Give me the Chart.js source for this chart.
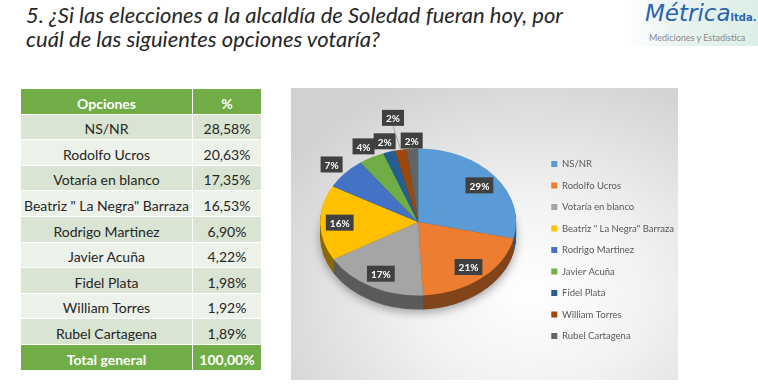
<!DOCTYPE html>
<html>
<head>
  <meta charset="utf-8">
  <title>Elecciones Soledad</title>
  <script src="https://cdn.jsdelivr.net/npm/chart.js"></script>
  <style type="text/css">
    body {
      margin: 0;
      width: 758px;
      height: 390px;
      background: #fff;
      font-family: Lato, "Noto Sans", sans-serif;
      position: relative;
      overflow: hidden;
    }
    .titulo {
      position: absolute;
      left: 26px;
      top: 3px;
      font-size: 22px;
      line-height: 24px;
      font-style: italic;
      color: #262626;
    }
    .logo {
      position: absolute;
      left: 625px;
      top: 0;
      width: 133px;
      height: 46px;
      background: linear-gradient(90deg, #ffffff 0%, #e9f3f0 40%, #dcefe6 100%);
    }
    .logo .nombre {
      position: absolute;
      left: 20px;
      top: 0px;
      font-family: "DejaVu Sans", sans-serif;
      font-style: italic;
      font-size: 23px;
      color: #2a64ad;
    }
    .logo .ltda {
      font-size: 10px;
      font-weight: bold;
      font-style: normal;
    }
    .logo .sub {
      position: absolute;
      left: 24px;
      top: 32px;
      font-size: 9px;
      color: #8a8a8a;
    }
    table {
      position: absolute;
      left: 20px;
      top: 88px;
      width: 242px;
      border-collapse: collapse;
      font-size: 14px;
      color: #262626;
    }
    td, th {
      text-align: center;
      vertical-align: bottom;
      padding: 0 0 2px 0;
      border: 1px solid #fff;
      height: 22.6px;
    }
    th, tr.total td {
      background: #70ad47;
      color: #fff;
      font-weight: bold;
    }
    tr.impar td { background: #d9e4d2; }
    tr.par td { background: #ecf1e9; }
    .grafico {
      position: absolute;
      left: 291px;
      top: 88px;
      width: 387px;
      height: 292px;
      background: radial-gradient(ellipse 75% 80% at 62% 70%, #ffffff 0%, #f2f2f2 40%, #d2d2d2 100%);
    }
  </style>
</head>
<body>
  <div class="titulo">5. ¿Si las elecciones a la alcaldía de Soledad fueran hoy, por<br>cuál de las siguientes opciones votaría?</div>

  <div class="logo">
    <div class="nombre">Métrica<span class="ltda">ltda.</span></div>
    <div class="sub">Mediciones y Estadistica</div>
  </div>

  <table id="tabla"></table>

  <div class="grafico">
    <canvas id="torta"></canvas>
  </div>

  <script>
    // datos
    var opciones = ['NS/NR', 'Rodolfo Ucros', 'Votaría en blanco', 'Beatriz " La Negra" Barraza',
      'Rodrigo Martinez', 'Javier Acuña', 'Fidel Plata', 'William Torres', 'Rubel Cartagena'];
    var porcentajes = [28.58, 20.63, 17.35, 16.53, 6.90, 4.22, 1.98, 1.92, 1.89];
    var etiquetasTorta = ['29%', '21%', '17%', '16%', '7%', '4%', '2%', '2%', '2%'];
    var total = '100,00%';

    var colores = ['#5b9bd5', '#ed7d31', '#a5a5a5', '#ffc000', '#4472c4', '#70ad47', '#255e91', '#9e480e', '#636363'];

    // tabla
    var html = '<tr><th>Opciones</th><th>%</th></tr>';
    opciones.forEach(function(op, i) {
      var clase = i % 2 == 0 ? 'impar' : 'par';
      html += '<tr class="' + clase + '"><td>' + op + '</td><td>' +
        porcentajes[i].toFixed(2).replace('.', ',') + '%</td></tr>';
    });
    html += '<tr class="total"><td>Total general</td><td>' + total + '</td></tr>';
    document.getElementById('tabla').innerHTML = html;
    document.querySelectorAll('#tabla tr').forEach(function(tr) {
      tr.children[0].style.width = '171px';
    });

    function oscurecer(hex, f) {
      var n = parseInt(hex.slice(1), 16);
      var r = Math.round(((n >> 16) & 255) * f);
      var g = Math.round(((n >> 8) & 255) * f);
      var b = Math.round((n & 255) * f);
      return 'rgb(' + r + ',' + g + ',' + b + ')';
    }

    // torta 3D: aplasta el circulo y le pone el costado
    var torta3d = {
      id: 'torta3d',
      beforeDatasetsDraw: function(chart, args, o) {
        var ctx = chart.ctx;
        var meta = chart.getDatasetMeta(0);
        var cx = meta.data[0].x, cy = meta.data[0].y;
        for (var k = o.depth; k >= 1; k--) {
          ctx.save();
          if (k == o.depth) {
            ctx.shadowColor = 'rgba(0,0,0,0.35)';
            ctx.shadowBlur = 10;
            ctx.shadowOffsetY = 3;
          }
          ctx.translate(cx + o.dx, cy + o.dy + k);
          ctx.scale(1, o.tilt);
          ctx.translate(-cx, -cy);
          meta.data.forEach(function(arc, i) {
            ctx.beginPath();
            ctx.moveTo(cx, cy);
            ctx.arc(cx, cy, arc.outerRadius, arc.startAngle, arc.endAngle);
            ctx.closePath();
            ctx.fillStyle = oscurecer(colores[i], 0.55);
            ctx.fill();
          });
          ctx.restore();
        }
        ctx.save();
        ctx.translate(cx + o.dx, cy + o.dy);
        ctx.scale(1, o.tilt);
        ctx.translate(-cx, -cy);
      },
      afterDatasetsDraw: function(chart, args, o) {
        var ctx = chart.ctx;
        ctx.restore();
        var meta = chart.getDatasetMeta(0);
        ctx.save();
        ctx.font = 'bold 10px Lato, sans-serif';
        ctx.textAlign = 'center';
        ctx.textBaseline = 'middle';
        meta.data.forEach(function(arc, i) {
          var mid = (arc.startAngle + arc.endAngle) / 2;
          var R = arc.outerRadius;
          var f = o.factores[i];
          var x0 = arc.x + o.dx, y0 = arc.y + o.dy;
          var px = x0 + R * f * Math.cos(mid);
          var py = y0 + R * f * Math.sin(mid) * o.tilt;
          var txt = etiquetasTorta[i];
          var w = ctx.measureText(txt).width + 8, h = 16;
          if (f > 1.3) {
            ctx.strokeStyle = '#a6a6a6';
            ctx.lineWidth = 1;
            ctx.beginPath();
            ctx.moveTo(px, py + h / 2);
            ctx.lineTo(x0 + R * Math.cos(mid), y0 + R * Math.sin(mid) * o.tilt);
            ctx.stroke();
          }
          ctx.fillStyle = '#404040';
          ctx.fillRect(px - w / 2, py - h / 2, w, h);
          ctx.fillStyle = '#fff';
          ctx.fillText(txt, px, py + 1);
        });
        ctx.restore();
      }
    };

    var grafico = new Chart(document.getElementById('torta'), {
      type: 'pie',
      data: {
        labels: opciones,
        datasets: [{
          data: porcentajes,
          backgroundColor: colores,
          borderWidth: 0,
          radius: 98
        }]
      },
      options: {
        responsive: true,
        maintainAspectRatio: false,
        animation: false,
        layout: { padding: { top: 32, right: -6, left: 0, bottom: 0 } },
        plugins: {
          tooltip: { enabled: false },
          legend: {
            position: 'right',
            labels: {
              boxWidth: 6,
              boxHeight: 6,
              padding: 12,
              color: '#595959',
              font: { size: 9.5, family: 'Lato' }
            }
          },
          torta3d: {
            depth: 14,
            tilt: 0.75,
            dx: 3,
            dy: -28,
            factores: [0.8, 0.8, 0.8, 0.8, 1.18, 1.17, 1.15, 1.44, 1.11]
          }
        }
      },
      plugins: [torta3d]
    });
  </script>
</body>
</html>
